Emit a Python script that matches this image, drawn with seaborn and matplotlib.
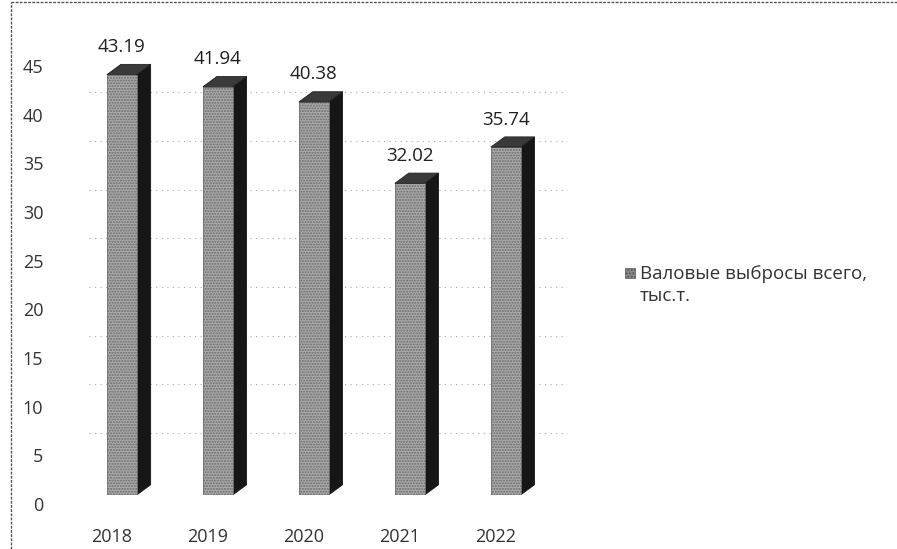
import matplotlib
matplotlib.use("Agg")
import matplotlib.pyplot as plt
from matplotlib.patches import Polygon, Rectangle
from matplotlib.transforms import ScaledTranslation
import seaborn as sns
import pandas as pd

years = ["2018", "2019", "2020", "2021", "2022"]
emissions = [43.19, 41.94, 40.38, 32.02, 35.74]
series_name = "Валовые выбросы всего,\nтыс.т."
y_ticks = [0, 5, 10, 15, 20, 25, 30, 35, 40, 45]

sns.set_theme(style="white")
plt.rcParams["font.family"] = ["Open Sans", "DejaVu Sans"]

df = pd.DataFrame({"year": years, "value": emissions})

fig = plt.figure(figsize=(8.97, 5.49), dpi=100)
ax = fig.add_axes([0.077, 0.0984, 0.567, 0.7978])

front = "#ababab"
sns.barplot(data=df, x="year", y="value", color=front, width=0.31,
            saturation=1, ax=ax, zorder=3)

ax.set_xlim(-0.55, 4.75)
ax.set_ylim(0, 45)

# depth of the 3D columns (category units, value units)
dx, dy = 0.145, 1.05

# faint dotted gridlines drawn on the back wall
for t in y_ticks[1:]:
    ax.axhline(t + dy * 1.3, xmin=0.04, xmax=0.98, color="#a8a8a8", lw=0.8,
               ls=(0, (1, 4)), zorder=1)

for bar in list(ax.patches):
    x0 = bar.get_x()
    w = bar.get_width()
    h = bar.get_height()
    bar.set_hatch("......")
    bar.set_edgecolor("#6a6a6a")
    bar.set_linewidth(0.6)
    side = Polygon([(x0 + w, 0), (x0 + w + dx, dy), (x0 + w + dx, h + dy), (x0 + w, h)],
                   closed=True, facecolor="#161616", edgecolor="#161616", lw=0.6, zorder=2.5)
    top = Polygon([(x0, h), (x0 + w, h), (x0 + w + dx, h + dy), (x0 + dx, h + dy)],
                  closed=True, facecolor="#3a3a3a", edgecolor="#222222", lw=0.6, zorder=3.5)
    ax.add_patch(side)
    ax.add_patch(top)
    ax.annotate(f"{h:.2f}", (x0 + w / 2, h + dy), xytext=(0, 6),
                textcoords="offset points", ha="center", va="bottom",
                fontsize=13.5, color="#202020")

ax.set_yticks(y_ticks)
ax.set_yticklabels([str(t) for t in y_ticks])
ax.tick_params(axis="y", length=0, pad=18.5, labelsize=13, labelcolor="#333333")
ax.tick_params(axis="x", length=0, pad=24, labelsize=13, labelcolor="#333333")
ax.set_xlabel("")
ax.set_ylabel("")
for s in ax.spines.values():
    s.set_visible(False)

# axis labels sit on the front floor of the 3D plot
y_shift = ScaledTranslation(0, -0.09, fig.dpi_scale_trans)
x_shift = ScaledTranslation(-0.10, 0, fig.dpi_scale_trans)
for lbl in ax.get_yticklabels():
    lbl.set_transform(lbl.get_transform() + y_shift)
for lbl in ax.get_xticklabels():
    lbl.set_transform(lbl.get_transform() + x_shift)

# legend entry
fig.patches.append(Rectangle((0.697, 0.4936), 0.0111, 0.0182, transform=fig.transFigure,
                             facecolor="#8c8c8c", edgecolor="#555555", lw=0.5,
                             hatch="....."))
fig.text(0.7135, 0.518, series_name, ha="left", va="top", fontsize=13.5,
         color="#333333", linespacing=1.3, transform=fig.transFigure)

# chart frame (left and top edges)
fig.add_artist(plt.Line2D([0.012, 0.012], [0.0, 0.997], transform=fig.transFigure,
                          color="#555555", lw=1.0, ls=(0, (2, 1))))
fig.add_artist(plt.Line2D([0.012, 1.0], [0.997, 0.997], transform=fig.transFigure,
                          color="#555555", lw=1.0, ls=(0, (2, 1))))

fig.savefig("out.png", dpi=100)
